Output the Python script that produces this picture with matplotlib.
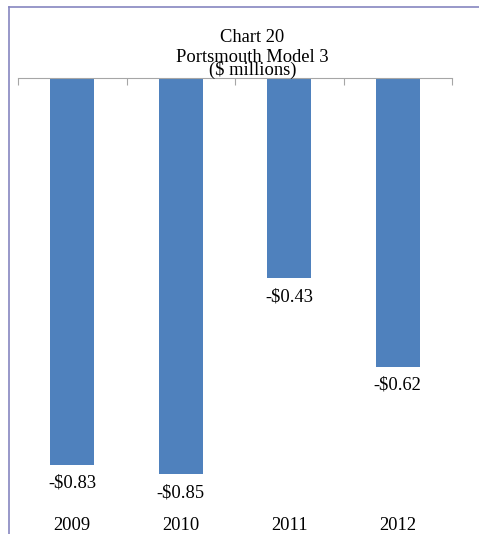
import matplotlib.pyplot as plt
from matplotlib.lines import Line2D

years = ['2009', '2010', '2011', '2012']
values = [-0.83, -0.85, -0.43, -0.62]
labels = ['-$0.83', '-$0.85', '-$0.43', '-$0.62']

plt.rcParams['font.family'] = ['Liberation Serif', 'DejaVu Serif']
fsize = 13.3

fig = plt.figure(figsize=(4.79, 5.34), dpi=100)
ax = fig.add_axes([18 / 479, 0.0, 434 / 479, 1 - 78 / 534])

x = range(len(years))
ax.bar(x, values, width=0.405, color='#4f81bd', zorder=2)

# value labels just under each bar
for i, (v, lab) in enumerate(zip(values, labels)):
    ax.annotate(lab, (i, v), xytext=(0, -10), textcoords='offset pixels',
                ha='center', va='top', fontsize=fsize)

ax.set_xlim(-0.5, len(years) - 0.5)
ax.set_ylim(-(534 - 78) / 466, 0)

for s in ['left', 'right', 'bottom']:
    ax.spines[s].set_visible(False)
ax.spines['top'].set_color('#a6a6a6')
ax.set_yticks([])
ax.xaxis.tick_top()
ax.set_xticks([i - 0.5 for i in range(len(years) + 1)])
ax.set_xticklabels([])
ax.tick_params(axis='x', direction='in', length=5, color='#a6a6a6')

# category labels along the bottom
for i, yr in enumerate(years):
    ax.text(i, -(526 - 78) / 466, yr, ha='center', va='center', fontsize=fsize)

fig.text(0.526, 1 - 37 / 534, 'Chart 20', ha='center', va='center', fontsize=fsize)
fig.text(0.526, 1 - 58 / 534, 'Portsmouth Model 3', ha='center', va='center', fontsize=fsize)
fig.text(0.528, 1 - 70 / 534, '($ millions)', ha='center', va='center', fontsize=fsize)

# chart frame
border = '#8686c0'
fig.add_artist(Line2D([9 / 479, 9 / 479], [0, 1 - 7 / 534], color=border, lw=1.2))
fig.add_artist(Line2D([9 / 479, 1], [1 - 7 / 534, 1 - 7 / 534], color=border, lw=1.2))

fig.savefig('out.png', dpi=100)
